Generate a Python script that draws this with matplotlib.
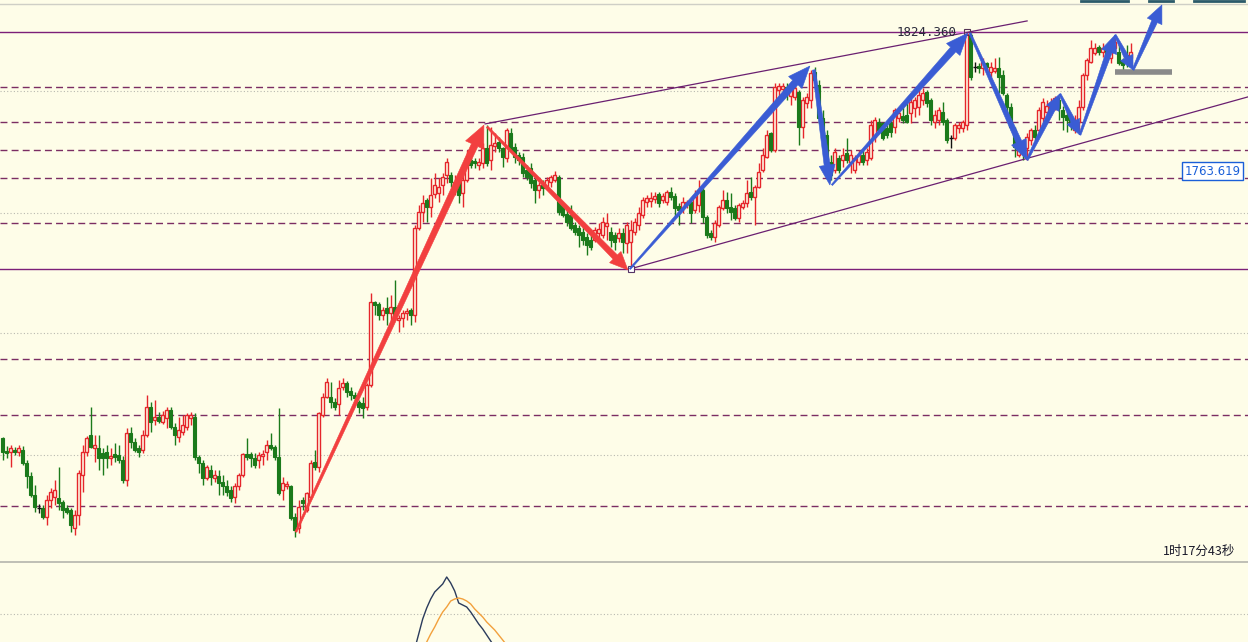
import numpy as np
import matplotlib
matplotlib.use("Agg")
import matplotlib.pyplot as plt
from matplotlib.patches import Polygon
from matplotlib.transforms import IdentityTransform

plt.rcParams['font.family'] = ['DejaVu Sans', 'Noto Sans CJK SC']

# ---- candle data (price), one entry per bar ----
opens = [
    1646.9, 1641.3, 1640.8, 1641.7, 1640.8, 1641.7, 1636.0, 1630.3, 1622.0, 1616.4,
    1616.4, 1612.4, 1619.9, 1621.2, 1620.7, 1619.0, 1616.4, 1615.5, 1607.6, 1613.3,
    1630.8, 1640.8, 1648.3, 1642.6, 1642.6, 1640.4, 1640.8, 1638.2, 1639.9, 1639.5,
    1637.3, 1628.6, 1649.1, 1645.2, 1642.6, 1641.7, 1648.3, 1660.5, 1654.8, 1656.1,
    1653.9, 1655.7, 1659.2, 1651.7, 1647.4, 1649.6, 1651.7, 1655.7, 1656.1, 1638.6,
    1636.0, 1629.5, 1633.0, 1629.5, 1630.3, 1627.7, 1626.0, 1624.2, 1621.2, 1625.8,
    1630.8, 1639.9, 1639.9, 1638.2, 1637.3, 1639.1, 1640.8, 1643.9, 1643.0, 1638.6,
    1624.2, 1625.8, 1625.8, 1612.4, 1607.6, 1619.9, 1615.5, 1621.2, 1636.5, 1634.3,
    1657.0, 1664.9, 1664.9, 1662.7, 1661.6, 1669.2, 1670.9, 1667.5, 1665.7, 1662.7,
    1662.2, 1660.5, 1670.1, 1706.4, 1705.5, 1700.7, 1703.8, 1701.6, 1704.2, 1698.5,
    1699.4, 1701.6, 1702.9, 1700.7, 1738.7, 1745.7, 1751.0, 1747.9, 1753.6, 1754.0,
    1757.5, 1761.9, 1761.9, 1757.5, 1758.8, 1754.0, 1759.7, 1768.4, 1768.0, 1766.2,
    1767.1, 1773.7, 1768.4, 1774.6, 1776.3, 1773.7, 1769.3, 1780.2, 1774.1, 1770.6,
    1769.7, 1764.1, 1765.0, 1759.7, 1755.3, 1757.5, 1756.2, 1758.8, 1759.7, 1761.0,
    1748.8, 1744.8, 1744.4, 1740.0, 1738.7, 1736.9, 1734.8, 1733.5, 1733.5, 1736.5,
    1735.7, 1739.6, 1736.9, 1735.7, 1734.4, 1736.5, 1732.2, 1732.6, 1736.9, 1740.0,
    1744.4, 1750.1, 1750.5, 1751.4, 1753.6, 1751.0, 1750.1, 1754.4, 1752.7, 1748.3,
    1747.5, 1749.2, 1750.1, 1746.6, 1748.8, 1755.3, 1743.5, 1736.5, 1734.8, 1740.0,
    1747.5, 1751.0, 1747.9, 1747.5, 1743.1, 1747.9, 1749.6, 1754.4, 1752.3, 1756.6,
    1764.1, 1769.7, 1780.2, 1772.8, 1799.0, 1799.5, 1800.3, 1796.4, 1796.0, 1798.1,
    1782.9, 1793.3, 1794.7, 1806.9, 1801.2, 1786.8, 1779.4, 1767.6, 1764.1, 1769.3,
    1768.4, 1771.5, 1767.6, 1764.1, 1767.6, 1770.6, 1768.4, 1769.3, 1778.5, 1785.0,
    1784.6, 1782.4, 1784.6, 1782.9, 1786.8, 1787.7, 1788.1, 1789.0, 1791.2, 1791.6,
    1794.7, 1798.1, 1794.7, 1785.0, 1785.9, 1789.4, 1785.9, 1778.0, 1778.0, 1782.4,
    1782.4, 1783.7, 1823.1, 1809.1, 1809.5, 1808.6, 1810.8, 1806.9, 1807.3, 1808.6,
    1805.6, 1796.8, 1791.6, 1781.5, 1770.6, 1775.0, 1773.7, 1777.2, 1781.5, 1781.5,
    1786.8, 1789.4, 1791.2, 1792.5, 1794.7, 1790.3, 1788.1, 1786.8, 1781.5, 1785.0,
    1791.6, 1805.6, 1811.3, 1815.2, 1817.8, 1815.6, 1816.5, 1813.0, 1817.4, 1815.6,
    1812.1, 1814.3, 1813.0,
]
highs = [
    1647.4, 1643.4, 1643.9, 1643.0, 1643.9, 1643.4, 1637.3, 1632.1, 1626.4, 1618.1,
    1617.7, 1622.0, 1625.1, 1628.6, 1634.3, 1619.9, 1617.7, 1616.4, 1615.5, 1633.0,
    1643.9, 1647.8, 1660.5, 1648.3, 1648.3, 1642.6, 1643.9, 1642.6, 1644.7, 1643.9,
    1639.1, 1651.3, 1651.7, 1646.9, 1643.9, 1650.4, 1665.7, 1662.7, 1663.6, 1658.3,
    1658.7, 1660.5, 1660.5, 1653.5, 1656.1, 1657.0, 1657.9, 1658.3, 1657.9, 1639.5,
    1637.3, 1635.1, 1635.1, 1633.0, 1633.0, 1630.8, 1628.6, 1625.8, 1627.3, 1631.6,
    1640.4, 1646.9, 1640.8, 1640.4, 1640.8, 1641.7, 1646.1, 1649.1, 1643.9, 1660.1,
    1629.9, 1628.2, 1626.4, 1614.2, 1619.9, 1621.2, 1623.3, 1637.3, 1641.7, 1658.3,
    1666.6, 1673.2, 1671.4, 1664.4, 1672.3, 1673.2, 1671.9, 1669.2, 1667.0, 1663.6,
    1664.9, 1670.9, 1710.3, 1706.8, 1706.4, 1704.2, 1708.6, 1709.4, 1716.0, 1700.7,
    1702.9, 1703.8, 1703.8, 1740.0, 1748.8, 1753.1, 1751.8, 1760.6, 1762.8, 1760.6,
    1762.8, 1769.3, 1763.2, 1761.9, 1760.6, 1762.8, 1772.8, 1770.6, 1769.3, 1769.3,
    1775.9, 1783.7, 1782.9, 1780.2, 1778.5, 1774.1, 1782.4, 1782.4, 1775.9, 1771.9,
    1771.5, 1766.2, 1767.1, 1761.9, 1758.8, 1759.7, 1761.0, 1761.9, 1763.6, 1761.9,
    1749.6, 1746.6, 1748.8, 1741.3, 1740.0, 1741.3, 1736.5, 1735.7, 1739.1, 1740.9,
    1743.5, 1745.3, 1739.1, 1736.9, 1738.7, 1738.7, 1741.3, 1742.2, 1743.1, 1747.9,
    1752.3, 1753.1, 1754.4, 1754.4, 1754.4, 1754.0, 1755.3, 1756.6, 1754.0, 1749.6,
    1752.3, 1751.0, 1751.8, 1755.3, 1759.7, 1756.2, 1744.4, 1737.8, 1742.2, 1748.8,
    1755.3, 1754.4, 1754.0, 1748.8, 1749.6, 1751.0, 1759.7, 1761.0, 1757.5, 1767.1,
    1773.7, 1781.5, 1780.7, 1802.1, 1802.1, 1802.1, 1802.1, 1801.2, 1800.8, 1799.0,
    1796.0, 1797.7, 1807.8, 1809.1, 1803.4, 1790.3, 1781.5, 1770.6, 1773.7, 1770.6,
    1773.7, 1778.0, 1772.8, 1770.6, 1772.8, 1772.8, 1773.7, 1785.9, 1787.2, 1786.8,
    1785.0, 1783.7, 1786.8, 1791.2, 1790.3, 1791.6, 1793.3, 1795.5, 1796.0, 1802.1,
    1799.9, 1799.0, 1795.5, 1790.3, 1791.6, 1793.8, 1786.8, 1779.4, 1784.6, 1785.0,
    1785.9, 1824.36, 1823.9, 1811.3, 1810.8, 1813.0, 1811.3, 1811.3, 1813.0, 1813.4,
    1807.8, 1797.7, 1793.3, 1782.9, 1777.2, 1777.2, 1780.2, 1782.4, 1783.7, 1791.6,
    1795.5, 1794.7, 1795.5, 1796.4, 1796.0, 1792.0, 1790.3, 1788.1, 1788.1, 1794.7,
    1806.5, 1813.0, 1820.9, 1819.6, 1818.7, 1819.6, 1817.8, 1820.0, 1821.7, 1819.6,
    1813.0, 1818.7, 1819.6,
]
lows = [
    1637.3, 1638.2, 1634.3, 1639.5, 1639.1, 1635.1, 1625.1, 1621.2, 1614.6, 1614.2,
    1611.5, 1608.9, 1616.4, 1617.7, 1615.5, 1611.9, 1613.7, 1605.9, 1604.6, 1608.9,
    1623.3, 1639.1, 1642.6, 1636.5, 1633.0, 1630.8, 1633.8, 1635.1, 1636.5, 1636.0,
    1627.3, 1625.8, 1642.6, 1640.8, 1638.6, 1640.4, 1647.4, 1649.6, 1652.6, 1653.5,
    1653.1, 1651.3, 1650.9, 1643.9, 1645.2, 1648.3, 1650.4, 1652.6, 1637.3, 1631.6,
    1626.4, 1628.6, 1626.4, 1627.7, 1622.0, 1622.0, 1621.6, 1619.0, 1618.5, 1624.2,
    1629.9, 1637.3, 1634.3, 1633.8, 1633.8, 1635.1, 1637.3, 1641.7, 1637.3, 1622.0,
    1619.9, 1624.7, 1611.1, 1603.7, 1605.4, 1615.5, 1614.6, 1620.7, 1633.0, 1632.1,
    1656.1, 1664.4, 1660.1, 1659.2, 1657.0, 1667.9, 1664.9, 1663.6, 1662.7, 1657.9,
    1655.7, 1659.2, 1669.2, 1700.7, 1698.5, 1698.5, 1696.3, 1697.2, 1698.5, 1693.3,
    1695.4, 1698.5, 1696.3, 1697.6, 1737.8, 1741.3, 1741.3, 1743.5, 1751.8, 1750.1,
    1753.1, 1758.4, 1756.6, 1753.1, 1749.6, 1747.9, 1758.8, 1765.0, 1765.0, 1764.1,
    1765.0, 1765.8, 1764.1, 1771.9, 1771.9, 1765.4, 1767.6, 1771.9, 1767.1, 1766.2,
    1761.0, 1759.7, 1756.2, 1749.6, 1751.8, 1753.1, 1755.3, 1756.6, 1758.8, 1744.4,
    1743.5, 1739.6, 1737.8, 1735.7, 1730.4, 1731.3, 1726.9, 1729.1, 1732.6, 1734.4,
    1734.4, 1733.5, 1730.4, 1729.1, 1732.6, 1727.8, 1727.8, 1720.8, 1735.7, 1737.8,
    1743.1, 1747.9, 1747.9, 1749.6, 1747.9, 1749.6, 1748.8, 1751.0, 1743.5, 1740.0,
    1745.3, 1747.5, 1740.9, 1745.3, 1745.7, 1740.9, 1734.4, 1733.5, 1732.6, 1739.1,
    1746.6, 1745.3, 1742.2, 1742.2, 1741.3, 1747.0, 1747.9, 1751.0, 1740.0, 1756.2,
    1763.2, 1769.3, 1771.9, 1771.9, 1796.0, 1798.1, 1794.7, 1792.5, 1794.7, 1775.0,
    1778.0, 1791.2, 1791.2, 1801.2, 1784.6, 1776.3, 1765.0, 1759.7, 1762.8, 1762.8,
    1765.4, 1767.1, 1762.8, 1762.8, 1766.2, 1766.2, 1766.2, 1768.4, 1776.3, 1780.2,
    1777.2, 1778.0, 1778.5, 1780.2, 1785.0, 1784.6, 1784.6, 1784.6, 1787.2, 1788.1,
    1792.5, 1791.6, 1783.7, 1782.4, 1783.7, 1783.7, 1775.9, 1773.7, 1777.2, 1780.2,
    1780.7, 1781.5, 1803.4, 1806.9, 1806.5, 1805.6, 1807.8, 1804.7, 1806.5, 1797.7,
    1796.8, 1785.9, 1781.5, 1769.7, 1769.7, 1768.4, 1768.4, 1775.0, 1777.2, 1778.5,
    1785.0, 1787.7, 1788.1, 1790.3, 1785.9, 1781.5, 1780.7, 1781.5, 1780.2, 1780.2,
    1790.3, 1803.4, 1810.8, 1814.3, 1814.3, 1813.4, 1811.3, 1810.8, 1815.6, 1809.9,
    1807.8, 1809.1, 1810.8,
]
closes = [
    1640.8, 1640.4, 1642.6, 1640.8, 1642.6, 1636.0, 1630.3, 1622.0, 1616.8, 1616.4,
    1612.4, 1619.9, 1623.3, 1624.2, 1618.5, 1615.5, 1614.6, 1608.9, 1613.3, 1631.6,
    1640.8, 1646.9, 1643.0, 1643.9, 1638.2, 1638.2, 1638.2, 1639.1, 1638.6, 1637.3,
    1628.6, 1649.1, 1645.2, 1641.7, 1640.8, 1648.3, 1660.5, 1653.9, 1656.1, 1654.4,
    1657.0, 1659.2, 1651.7, 1648.3, 1650.4, 1652.6, 1657.0, 1657.0, 1638.6, 1636.0,
    1629.5, 1634.3, 1629.9, 1630.8, 1627.3, 1625.8, 1623.3, 1620.7, 1625.8, 1630.8,
    1639.9, 1638.6, 1638.2, 1635.1, 1639.5, 1639.9, 1643.9, 1642.6, 1638.6, 1622.9,
    1627.3, 1626.8, 1611.9, 1606.7, 1616.8, 1618.5, 1622.9, 1636.0, 1634.3, 1657.9,
    1664.9, 1671.4, 1662.7, 1660.5, 1668.8, 1670.9, 1667.0, 1665.7, 1664.4, 1660.5,
    1660.1, 1670.1, 1706.4, 1705.0, 1700.7, 1702.9, 1701.6, 1704.2, 1699.8, 1699.4,
    1701.6, 1702.4, 1700.7, 1738.7, 1745.7, 1749.6, 1747.9, 1753.1, 1757.5, 1756.6,
    1761.0, 1767.6, 1758.8, 1758.8, 1753.1, 1759.7, 1769.3, 1766.2, 1767.1, 1767.6,
    1773.7, 1767.1, 1775.0, 1775.9, 1773.7, 1769.7, 1781.5, 1772.8, 1769.7, 1768.4,
    1762.8, 1761.0, 1758.4, 1755.3, 1757.5, 1756.2, 1759.7, 1761.0, 1761.9, 1745.7,
    1744.4, 1741.3, 1738.7, 1736.9, 1735.7, 1733.5, 1731.3, 1730.4, 1737.8, 1738.3,
    1741.3, 1740.9, 1733.5, 1732.6, 1736.5, 1732.6, 1740.0, 1737.8, 1741.3, 1745.3,
    1751.0, 1751.8, 1751.8, 1752.7, 1749.6, 1752.7, 1754.4, 1752.3, 1747.5, 1746.6,
    1750.1, 1750.1, 1745.3, 1752.3, 1755.3, 1743.5, 1735.7, 1734.8, 1740.9, 1747.9,
    1751.0, 1747.5, 1745.7, 1743.1, 1748.8, 1749.6, 1754.0, 1752.3, 1756.6, 1763.2,
    1770.6, 1779.4, 1772.8, 1800.3, 1800.8, 1800.8, 1798.1, 1799.0, 1799.9, 1782.9,
    1794.7, 1796.0, 1806.5, 1803.4, 1786.8, 1779.4, 1767.6, 1761.9, 1771.9, 1764.1,
    1770.6, 1768.4, 1770.6, 1769.3, 1770.6, 1767.6, 1771.9, 1783.7, 1785.9, 1781.5,
    1778.0, 1779.4, 1780.7, 1790.3, 1789.0, 1785.9, 1785.0, 1793.8, 1794.7, 1796.8,
    1797.7, 1793.3, 1785.9, 1788.1, 1790.3, 1785.0, 1777.2, 1778.0, 1783.7, 1783.7,
    1785.0, 1823.5, 1804.7, 1809.1, 1808.6, 1811.3, 1809.1, 1809.1, 1808.6, 1804.7,
    1797.7, 1791.6, 1782.9, 1774.1, 1775.0, 1771.5, 1778.5, 1781.5, 1778.5, 1790.3,
    1793.8, 1792.0, 1793.3, 1795.5, 1791.2, 1787.2, 1785.9, 1783.7, 1785.0, 1791.6,
    1805.6, 1812.1, 1817.4, 1817.4, 1815.6, 1817.4, 1813.0, 1817.4, 1820.0, 1810.8,
    1809.9, 1810.8, 1815.6,
]

# ---- horizontal levels ----
solid_levels = [1824.36, 1720.8]
dash_levels = [1800.3, 1785.0, 1772.8, 1760.6, 1740.9, 1681.5, 1656.9, 1617.2]
dot_levels = [1798.6, 1745.3, 1692.8, 1639.5]
frame_level = 1836.6

# ---- channel lines (bar index, price) ----
channel_upper = [(120.6, 1784.2), (256.1, 1829.2)]
channel_lower = [(156.8, 1720.8), (311.3, 1796.0)]

# ---- hand drawn arrows: (start), (end) in bar index / price ----
red_arrows = [((73.3, 1605.9), (120.3, 1783.7)),
              ((121.1, 1782.9), (156.3, 1720.4))]
blue_arrows = [((156.8, 1720.8), (201.8, 1809.5)),
               ((202.8, 1807.8), (206.8, 1757.5)),
               ((207.3, 1757.5), (241.3, 1823.9)),
               ((241.8, 1823.9), (256.1, 1768.4)),
               ((256.1, 1768.4), (264.3, 1797.3)),
               ((264.3, 1797.3), (269.3, 1779.4)),
               ((269.3, 1779.4), (278.1, 1823.1)),
               ((278.1, 1823.1), (282.6, 1807.8)),
               ((282.6, 1807.8), (289.8, 1836.2))]
# shaft start width, shaft end width, head half width, head length (px)
red_shape = [(2, 7, 10, 22), (2, 6, 8, 18)]
blue_shape = [(1.5, 7, 9, 22), (3, 6, 8, 20), (1.5, 7, 9, 22), (2, 6, 8, 20),
              (2, 6, 7, 16), (2, 5, 7, 15), (2, 6, 8, 18), (2, 5, 7, 14),
              (2, 6, 8, 18)]

grey_bar = [(278.1, 1806.9), (292.3, 1806.9)]
last_price = 1763.619
high_price = 1824.36
high_bar = 241
low_bar = 157

# ---- oscillator (lower panel), only the part that shows ----
osc_a_start = 103
osc_a = [-3.5, -2.0, -0.5, 0.6, 1.5, 2.2, 2.6, 3.0, 3.7, 3.1, 2.3, 1.1, 0.9, 0.7,
         0.2, -0.4, -1.0, -1.5, -2.1, -2.7, -3.3, -4.0]
osc_b_start = 105
osc_b = [-3.8, -2.8, -2.0, -1.3, -0.5, 0.2, 0.7, 1.3, 1.5, 1.6, 1.5, 1.3, 1.0, 0.5,
         0.1, -0.3, -0.8, -1.2, -1.6, -2.1, -2.6, -3.1, -3.6]

BG = '#fefde8'
RED = '#e5262b'
GREEN = '#1b7a1b'

fig = plt.figure(figsize=(12.48, 6.42), dpi=100, facecolor=BG)
ax = fig.add_axes([0, 81 / 642, 1, 561 / 642], facecolor=BG)
ax2 = fig.add_axes([0, 0, 1, 80 / 642], facecolor=BG)

ax.set_xlim(-0.675, 311.325)
ax.set_ylim(1593.19, 1838.35)
ax.axis('off')

# levels
for lv in solid_levels:
    ax.axhline(lv, color='#7c1f78', lw=1.0, zorder=1)
for lv in dash_levels:
    ax.axhline(lv, color='#7b2d63', lw=1.0, ls=(0, (5, 3)), zorder=1)
for lv in dot_levels:
    ax.axhline(lv, color='#b9b9b0', lw=0.8, ls=(0, (1, 2)), zorder=1)
ax.axhline(frame_level, color='#cfcfc6', lw=1.0, zorder=1)

# candles
o = np.array(opens)
h = np.array(highs)
l = np.array(lows)
c = np.array(closes)
idx = np.arange(len(o))
up = c > o
down = c < o
flat = c == o

ax.vlines(idx[up], l[up], h[up], color=RED, lw=1.0, zorder=2)
ax.vlines(idx[down], l[down], h[down], color=GREEN, lw=1.0, zorder=2)
ax.vlines(idx[flat], l[flat], h[flat], color='#111111', lw=1.0, zorder=2)
ax.bar(idx[up], (c - o)[up], bottom=o[up], width=0.8, facecolor=BG,
       edgecolor=RED, lw=1.0, zorder=3)
ax.bar(idx[down], (o - c)[down], bottom=c[down], width=0.8, facecolor=GREEN,
       edgecolor=GREEN, lw=0.8, zorder=3)
ax.hlines(c[flat], idx[flat] - 0.45, idx[flat] + 0.45, color='#111111', lw=1.0, zorder=3)

# channel lines
for seg in (channel_upper, channel_lower):
    xs, ys = zip(*seg)
    ax.plot(xs, ys, color='#6a1f70', lw=0.9, zorder=4)

# markers at the high and the low
ax.plot([high_bar - 2.6, high_bar - 0.8], [high_price, high_price], color='#e070e0', lw=1, zorder=5)
ax.plot(high_bar, high_price, marker='s', ms=4.5, mfc='none', mec='#553355', mew=0.8, zorder=6)
ax.plot(low_bar, lows[low_bar], marker='s', ms=4.5, mfc='white', mec='#553366', mew=0.8, zorder=6)
ax.text(high_bar - 2.6, high_price, f'{high_price:.3f}', ha='right', va='center',
        fontsize=9, family='DejaVu Sans Mono', color='#2a2a3a', zorder=6)


def taper_arrow(p0, p1, shape, color):
    w0, w1, hw, hl = shape
    (x0, y0), (x1, y1) = ax.transData.transform([p0, p1])
    dx, dy = x1 - x0, y1 - y0
    n = np.hypot(dx, dy)
    ux, uy = dx / n, dy / n
    nx, ny = -uy, ux
    bx, by = x1 - ux * hl, y1 - uy * hl
    pts = [(x0 + nx * w0 / 2, y0 + ny * w0 / 2),
           (bx + nx * w1 / 2, by + ny * w1 / 2),
           (bx + nx * hw, by + ny * hw),
           (x1, y1),
           (bx - nx * hw, by - ny * hw),
           (bx - nx * w1 / 2, by - ny * w1 / 2),
           (x0 - nx * w0 / 2, y0 - ny * w0 / 2)]
    ax.add_patch(Polygon(pts, closed=True, transform=IdentityTransform(),
                         facecolor=color, edgecolor=color, lw=0.4, zorder=7))


for (p0, p1), shp in zip(red_arrows, red_shape):
    taper_arrow(p0, p1, shp, '#f23f3f')
for (p0, p1), shp in zip(blue_arrows, blue_shape):
    taper_arrow(p0, p1, shp, '#3a5cd4')

# grey bar
gx, gy = zip(*grey_bar)
ax.plot(gx, gy, color='#8a8a8a', lw=4.0, solid_capstyle='butt', zorder=6)

# last price tag
ax.text(309.5, last_price, f'{last_price:.3f}', ha='right', va='center', fontsize=8.5,
        color='#1a5fd8', zorder=8,
        bbox=dict(boxstyle='square,pad=0.18', facecolor='white', edgecolor='#1a5fd8', lw=1))

# countdown
ax.text(290.1, 1597.6, '1时17分43秒', ha='left', va='center', fontsize=9,
        family=['Noto Sans CJK SC', 'DejaVu Sans'], color='#1a1a2a', zorder=8)

# toolbar stubs at the top edge
for xa, xb in [(1081, 1128), (1149, 1173), (1194, 1244)]:
    ax.plot([xa / 1248, xb / 1248], [0.998, 0.998], transform=ax.transAxes,
            color='#2b5a6a', lw=2, clip_on=False, zorder=9)

# lower panel
ax2.set_xlim(-0.675, 311.325)
ax2.set_ylim(-2.8, 5.2)
for s in ['left', 'right', 'bottom']:
    ax2.spines[s].set_visible(False)
ax2.spines['top'].set_color('#b4b4ac')
ax2.spines['top'].set_linewidth(1.2)
ax2.set_xticks([])
ax2.set_yticks([])
ax2.axhline(0, color='#b9b9b0', lw=0.8, ls=(0, (1, 2)))
ax2.plot(np.arange(osc_a_start, osc_a_start + len(osc_a)), osc_a, color='#2b3b5c', lw=1.0)
ax2.plot(np.arange(osc_b_start, osc_b_start + len(osc_b)), osc_b, color='#f2a03c', lw=1.0)

fig.savefig('out.png', dpi=100, facecolor=BG)
